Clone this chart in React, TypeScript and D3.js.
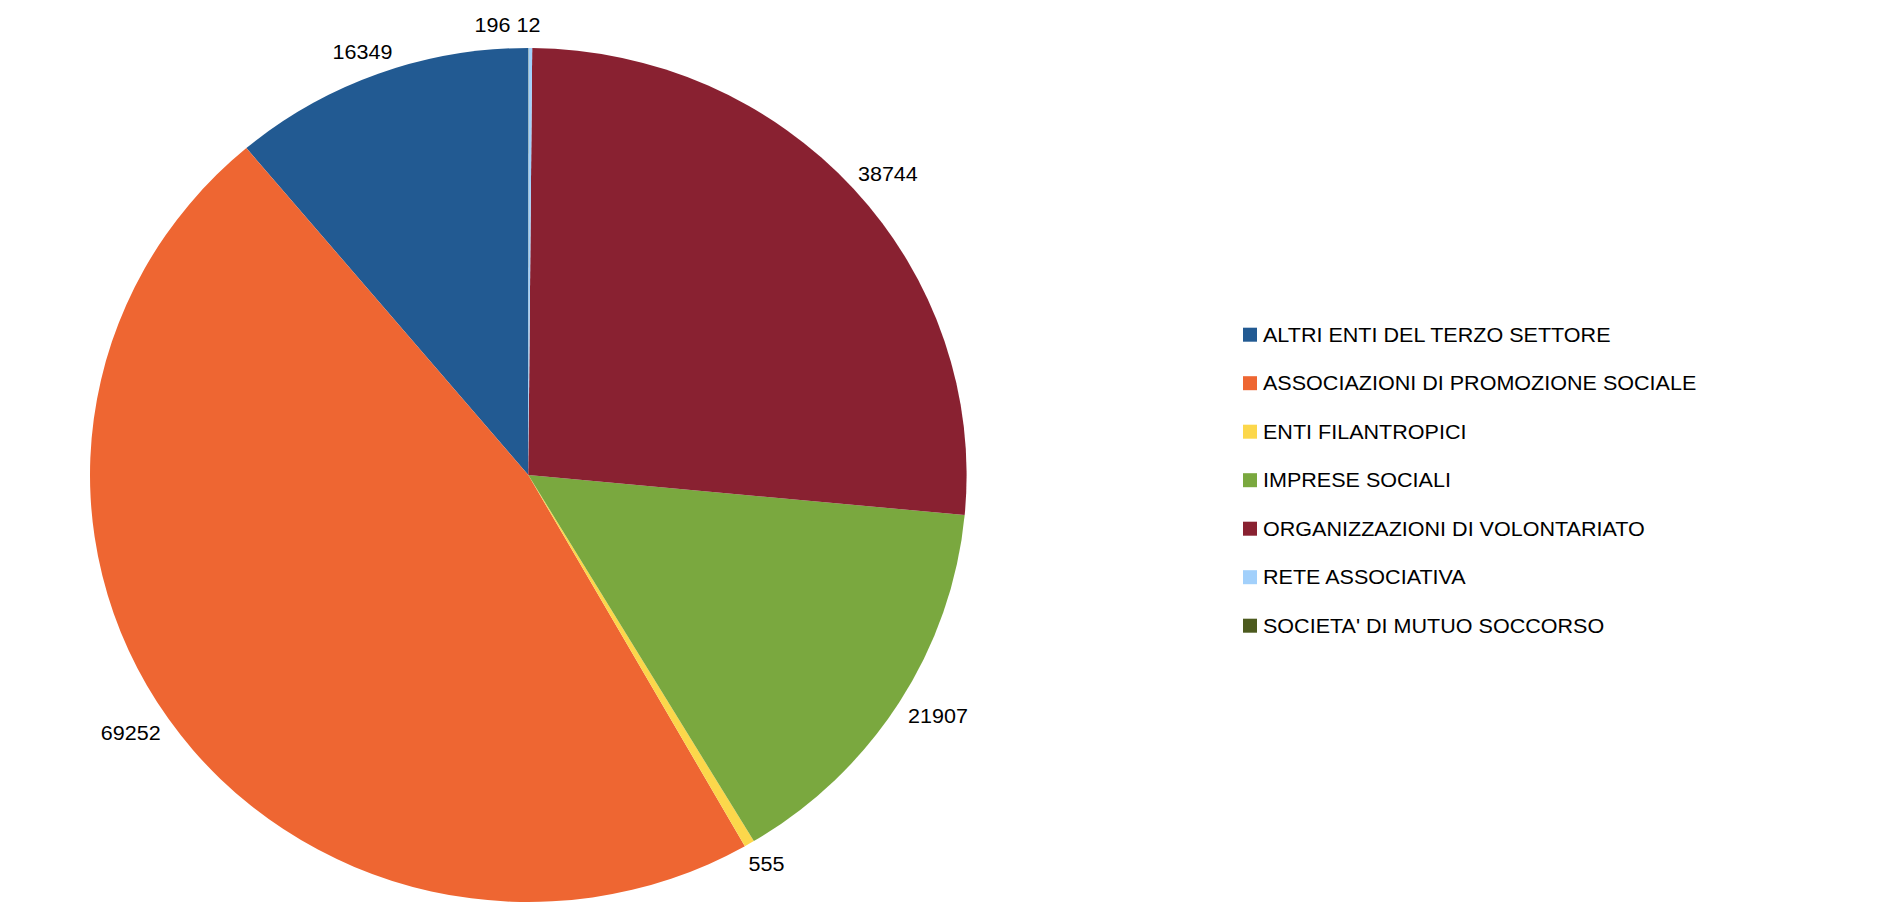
import * as d3 from 'd3';
import { useRef, useEffect } from 'react';

const categories = [
  'ALTRI ENTI DEL TERZO SETTORE',
  'ASSOCIAZIONI DI PROMOZIONE SOCIALE',
  'ENTI FILANTROPICI',
  'IMPRESE SOCIALI',
  'ORGANIZZAZIONI DI VOLONTARIATO',
  'RETE ASSOCIATIVA',
  "SOCIETA' DI MUTUO SOCCORSO",
];
const values = [16349, 69252, 555, 21907, 38744, 196, 12];
const colors = ['#225a92', '#ee6632', '#fcd74b', '#7aa83f', '#892131', '#a2d0fb', '#4c5a1e'];

const FONT = '"Liberation Sans", Arial, sans-serif';

export default function App() {
  const svgRef = useRef<SVGSVGElement>(null);

  useEffect(() => {
    if (!svgRef.current) return;
    const svg = d3.select(svgRef.current);
    svg.selectAll('*').remove();

    const cx = 528.3;
    const cy = 475;
    const ry = 427;
    const rx = 438.3;
    const sx = rx / ry; // the original is slightly stretched horizontally
    const fs = 21;

    // counter-clockwise from the top, like the original
    const pie = d3.pie<number>().sort(null).startAngle(0).endAngle(-2 * Math.PI);
    const arcs = pie(values);
    const arc = d3.arc<d3.PieArcDatum<number>>().innerRadius(0).outerRadius(ry);

    const g = svg.append('g').attr('transform', `translate(${cx},${cy}) scale(${sx},1)`);
    g.selectAll('path')
      .data(arcs)
      .join('path')
      .attr('d', arc)
      .attr('fill', (_, i) => colors[i]);

    // Labels, placed outside on the mid-angle ray
    const gap = 16;
    const capH = 15;
    type Box = { x0: number; x1: number; y0: number; y1: number };
    const placed: Box[] = [];
    const labels: { text: string; x: number; y: number }[] = [];
    for (let i = arcs.length - 1; i >= 0; i--) {
      const a = arcs[i];
      const t = (a.startAngle + a.endAngle) / 2;
      const s = Math.sin(t);
      const c = Math.cos(t);
      const text = String(a.value);
      const w = text.length * 0.556 * fs * sx;
      let lx = cx + (rx + gap) * s + (w / 2) * s;
      const ly = cy - (ry + gap) * c - (capH / 2) * c;
      let box = { x0: lx - w / 2, x1: lx + w / 2, y0: ly - capH / 2, y1: ly + capH / 2 };
      for (const b of placed) {
        if (box.x0 < b.x1 && box.x1 > b.x0 && box.y0 < b.y1 && box.y1 > b.y0) {
          lx = b.x0 - 6 - w / 2;
          box = { ...box, x0: lx - w / 2, x1: lx + w / 2 };
        }
      }
      placed.push(box);
      labels.push({ text, x: lx, y: ly + capH / 2 });
    }
    svg.append('g')
      .selectAll('text')
      .data(labels)
      .join('text')
      .attr('transform', (d) => `translate(${d.x},${d.y}) scale(${sx},1)`)
      .attr('text-anchor', 'middle')
      .attr('font-family', FONT)
      .attr('font-size', fs)
      .attr('fill', '#000')
      .text((d) => d.text);

    // Legend
    const ly = d3.scalePoint<string>().domain(categories).range([334.7, 625.7]);
    const leg = svg.append('g');
    const rows = leg.selectAll('g').data(categories).join('g')
      .attr('transform', (d) => `translate(1243,${ly(d)})`);
    rows.append('rect')
      .attr('x', 0).attr('y', -7).attr('width', 14).attr('height', 14)
      .attr('fill', (_, i) => colors[i]);
    rows.append('text')
      .attr('transform', `translate(20,7.2) scale(${sx},1)`)
      .attr('font-family', FONT)
      .attr('font-size', fs)
      .attr('fill', '#000')
      .text((d) => d);
  }, []);

  return (
    <svg
      ref={svgRef}
      width={1880}
      height={912}
      style={{ position: 'absolute', left: 0, top: 0, background: '#fff' }}
    />
  );
}
